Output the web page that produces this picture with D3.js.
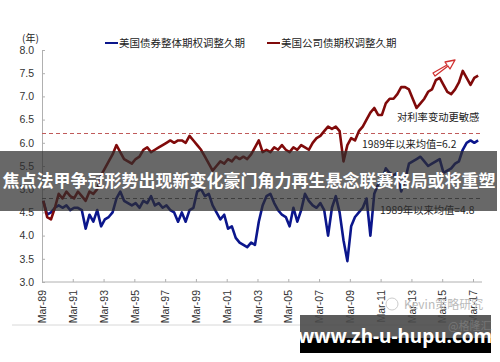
<!DOCTYPE html>
<html>
<head>
<meta charset="utf-8">
<script src="https://cdn.jsdelivr.net/npm/d3@7"></script>
<style>
  body { margin: 0; background: #fff; }
  svg { display: block; }
</style>
</head>
<body>
<svg id="chart" width="500" height="362"></svg>
<script>
var svg = d3.select("#chart");

// quarterly readings, Mar-89 .. Sep-17
var corpDuration = [
  4.75, 4.4, 4.35, 4.6,
  4.9, 4.8, 4.95, 4.85,
  4.8, 4.95, 4.85, 4.75,
  4.95, 4.9, 5.0, 5.3,
  5.45, 5.6, 5.75, 5.95,
  5.8, 5.65, 5.6, 5.55,
  5.65, 5.7, 5.85, 5.9,
  5.8, 5.85, 5.9, 5.95,
  6.0, 6.05, 6.0, 6.05,
  6.05, 6.0, 6.15, 6.05,
  5.95, 5.85, 5.7, 5.55,
  5.4, 5.5, 5.6, 5.55,
  5.65, 5.6, 5.7, 5.65,
  5.7, 5.65, 5.75, 5.9,
  6.05, 5.8, 5.85, 5.8,
  5.9, 5.85, 5.95, 5.85,
  5.8, 5.9, 5.85, 5.95,
  5.9, 5.85, 6.0, 6.1,
  6.15, 6.25, 6.35, 6.3,
  6.35, 6.25, 5.6, 5.95,
  6.1, 6.05, 6.25, 6.35,
  6.5, 6.65, 6.75, 6.6,
  6.6, 6.85, 6.95, 6.95,
  7.05, 7.2, 7.2, 7.15,
  6.95, 6.75, 6.85, 6.95,
  7.1, 7.15, 7.35, 7.4,
  7.25, 7.1, 7.05, 7.15,
  7.3, 7.55, 7.4, 7.25,
  7.4, 7.45, 7.5
];

var aggDuration = [
  4.75, 4.45, 4.5, 4.6,
  4.65, 4.6, 4.65, 4.55,
  4.6, 4.6, 4.55, 4.15,
  4.45, 4.3, 4.55, 4.2,
  4.35, 4.4, 4.5, 4.8,
  4.95, 4.75, 4.7, 4.65,
  4.7, 4.6, 4.75, 4.7,
  4.85, 4.65, 4.7, 4.6,
  4.65, 4.55, 4.5, 4.3,
  4.5, 4.3, 4.55, 4.6,
  4.95, 5.0, 4.85, 4.9,
  4.65, 4.5, 4.35, 4.45,
  4.15, 4.2, 3.95, 3.85,
  3.8, 3.75, 3.85, 3.8,
  4.3, 4.65, 4.85, 4.9,
  4.7, 4.55, 4.45, 4.4,
  4.2, 4.6, 4.3, 4.55,
  4.9, 4.75, 4.65, 4.6,
  4.7, 4.55, 4.0, 4.6,
  4.85, 4.5, 3.9, 3.45,
  4.2, 4.4, 4.5, 4.6,
  4.8, 4.0, 4.9, 5.1,
  5.2, 5.45, 5.35, 5.3,
  5.35, 4.95, 5.2, 5.55,
  5.6, 5.65, 5.7, 5.6,
  5.5, 5.55, 5.6, 5.65,
  5.35, 5.4, 5.45, 5.55,
  5.6, 5.85, 6.0, 6.05,
  6.0, 6.05, 6.0
];

var yTicks = [3.0, 3.5, 4.0, 4.5, 5.0, 5.5, 6.0, 6.5, 7.0, 7.5, 8.0];
var xTickYears = [1989, 1991, 1993, 1995, 1997, 1999, 2001, 2003, 2005, 2007, 2009, 2011, 2013, 2015, 2017];
var avgLines = [6.2, 4.8];
var legendNames = ["美国债券整体期权调整久期", "美国公司债期权调整久期"];

var dates = d3.timeMonth.every(3).range(new Date(1989, 2, 1), new Date(2017, 8, 2));

var blue = "#0b168c";
var red = "#800a0a";

var x = d3.scaleTime()
  .domain([new Date(1989, 2, 1), new Date(2017, 2, 1)])
  .range([42, 473]);
var y = d3.scaleLinear().domain([3, 8]).range([282, 50]);

var fmtMonth = d3.timeFormat("%b-%y");

// outer frame bottom line
svg.append("line")
  .attr("x1", 12).attr("x2", 490)
  .attr("y1", 325).attr("y2", 325)
  .attr("stroke", "#d8d8d8");

// y axis
var leftAxis = d3.axisLeft(y).tickValues(yTicks).tickFormat(d3.format(".1f")).tickSize(-3).tickPadding(8);
var gy = svg.append("g").attr("transform", "translate(42,0)").call(leftAxis);
gy.select(".domain").attr("stroke", "#b0b0b0");
gy.selectAll(".tick line").attr("stroke", "#b0b0b0");
gy.selectAll("text")
  .attr("fill", "#333")
  .style("font-family", "Liberation Sans, Arial, sans-serif")
  .style("font-size", "10.5px");

// x axis
var bottomAxis = d3.axisBottom(x)
  .tickValues(xTickYears.map(function (yr) { return new Date(yr, 2, 1); }))
  .tickFormat(fmtMonth)
  .tickSize(-3);
var gx = svg.append("g").attr("transform", "translate(0,282)").call(bottomAxis);
gx.select(".domain").remove();
gx.append("line").attr("x1", 42).attr("x2", 482).attr("stroke", "#b0b0b0");
gx.selectAll(".tick line").attr("stroke", "#b0b0b0").attr("y2", -3);
gx.selectAll("text")
  .attr("fill", "#333")
  .attr("transform", "rotate(-90)")
  .attr("text-anchor", "end")
  .attr("x", -8).attr("y", 0).attr("dy", "0.35em")
  .style("font-family", "Liberation Sans, Arial, sans-serif")
  .style("font-size", "10.5px");

// long-run averages
svg.selectAll(".avg")
  .data(avgLines)
  .enter().append("line")
  .attr("x1", 42).attr("x2", 482)
  .attr("y1", function (d) { return y(d); })
  .attr("y2", function (d) { return y(d); })
  .attr("stroke", function (d, i) { return i == 0 ? "#c05a5a" : "#666"; })
  .attr("stroke-width", 1.2)
  .attr("stroke-dasharray", "4,3");

var line = d3.line()
  .x(function (d, i) { return x(dates[i]); })
  .y(function (d) { return y(d); });

svg.append("path").datum(aggDuration)
  .attr("d", line).attr("fill", "none")
  .attr("stroke", blue).attr("stroke-width", 2.6).attr("stroke-linejoin", "round");

svg.append("path").datum(corpDuration)
  .attr("d", line).attr("fill", "none")
  .attr("stroke", red).attr("stroke-width", 2.6).attr("stroke-linejoin", "round");

// legend
var cjk = "'Noto Sans CJK SC', sans-serif";
var legend = svg.selectAll(".legend")
  .data(legendNames)
  .enter().append("g")
  .attr("transform", function (d, i) { return "translate(" + (i == 0 ? 105 : 267) + ",43)"; });
legend.append("line")
  .attr("x1", 0).attr("x2", 13)
  .attr("stroke", function (d, i) { return i == 0 ? blue : red; })
  .attr("stroke-width", 2);
legend.append("text")
  .attr("x", 14).attr("dy", "0.35em")
  .attr("fill", "#222")
  .style("font-family", cjk)
  .style("font-size", "10.5px")
  .text(function (d) { return d; });

svg.append("text")
  .attr("x", 22).attr("y", 42)
  .attr("fill", "#222")
  .style("font-family", cjk)
  .style("font-size", "10px")
  .text("(年)");

// annotations
var notes = [
  { t: "对利率变动更敏感", x: 397, y: 121 },
  { t: "1989年以来均值=6.2", x: 362, y: 148 },
  { t: "1989年以来均值=4.8", x: 380, y: 214 }
];
svg.selectAll(".note")
  .data(notes)
  .enter().append("text")
  .attr("x", function (d) { return d.x; })
  .attr("y", function (d) { return d.y; })
  .attr("fill", "#222")
  .style("font-family", cjk)
  .style("font-size", "10.3px")
  .text(function (d) { return d.t; });

// hollow arrow
svg.append("path")
  .attr("d", "M433,73 L447,65 L445,62 L455,60 L450,69 L448,66 L435,76 Z")
  .attr("fill", "#fff")
  .attr("stroke", "#d03030")
  .attr("stroke-width", 1.3)
  .attr("stroke-linejoin", "round");

// faint source watermark
svg.append("circle").attr("cx", 392).attr("cy", 304).attr("r", 6)
  .attr("fill", "none").attr("stroke", "#ccc");
svg.append("text").attr("x", 404).attr("y", 309)
  .attr("fill", "#bbb")
  .style("font-family", cjk).style("font-size", "12px")
  .text("Kevin策略研究");

// title banner
svg.append("rect")
  .attr("x", 0).attr("y", 151).attr("width", 497).attr("height", 60)
  .attr("fill", "#2e2e2e").attr("opacity", 0.72);
svg.append("text")
  .attr("x", 249).attr("y", 187)
  .attr("text-anchor", "middle")
  .attr("fill", "#fff")
  .style("font-family", cjk).style("font-size", "17px").style("font-weight", "bold")
  .text("焦点法甲争冠形势出现新变化豪门角力再生悬念联赛格局或将重塑");

// site watermark
svg.append("rect").attr("x", 300).attr("y", 315).attr("width", 191).attr("height", 23)
  .attr("fill", "#4a4a4a").attr("opacity", 0.9);
svg.append("rect").attr("x", 300).attr("y", 338).attr("width", 191).attr("height", 15)
  .attr("fill", "#000");
svg.append("text").attr("x", 448).attr("y", 330)
  .attr("fill", "#777")
  .style("font-family", cjk).style("font-size", "11px")
  .text("@格隆汇");
svg.append("text")
  .attr("x", 395).attr("y", 343)
  .attr("text-anchor", "middle")
  .attr("fill", "#fff")
  .style("font-family", "'Noto Sans', sans-serif").style("font-size", "19px").style("font-weight", "bold")
  .text("www.zh-u-hupu.com");
</script>
</body>
</html>
